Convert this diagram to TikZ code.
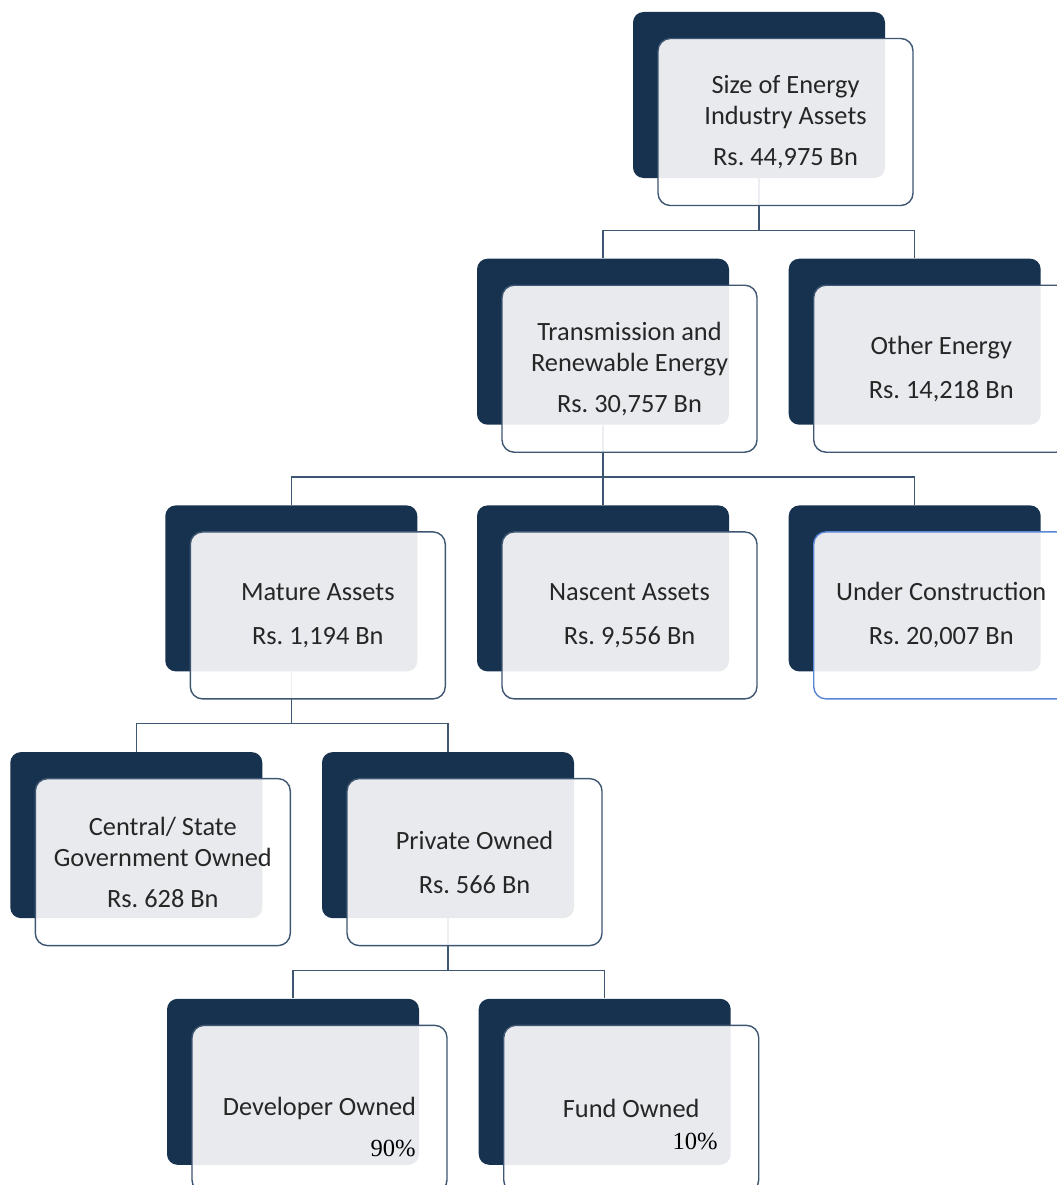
\documentclass[tikz,border=0pt]{standalone}
\usepackage{fontspec}
\setmainfont{Carlito}
\newfontfamily\pctfont{Liberation Serif}
\usepackage{xcolor}
\usetikzlibrary{positioning}
\definecolor{navy}{HTML}{17324F}
\definecolor{edgegray}{HTML}{3E5672}
\definecolor{edgeblue}{HTML}{5A86D6}
\definecolor{inkgray}{HTML}{262626}

\begin{document}
\begin{tikzpicture}[
  back/.style={fill=navy, rounded corners=6pt, minimum width=5.04cm,
    minimum height=3.32cm, inner sep=0pt},
  front/.style={draw=edgegray, line width=0.8pt, fill=white, fill opacity=0.9,
    text opacity=1, rounded corners=7pt, minimum width=5.1cm,
    minimum height=3.34cm, inner sep=0pt, align=center, text=inkgray,
    font=\fontsize{15}{17.6}\selectfont, xshift=0.53cm, yshift=-0.54cm},
  link/.style={draw=edgegray, line width=0.8pt},
  pct/.style={font=\pctfont\fontsize{14}{16}\selectfont, anchor=east, inner sep=0pt},
  node distance=1.6cm
]
\useasboundingbox (0,0) rectangle (21.14,-23.70);
\clip (0,0) rectangle (21.14,-23.70);

% dark back plates
\node[back] (topB) at (15.18,-1.90) {};
\node[back, below=of topB, xshift=-3.12cm] (treB) {};
\node[back, right=1.18cm of treB] (othB) {};
\node[back, below=of treB] (nasB) {};
\node[back, left=1.18cm of nasB] (matB) {};
\node[back, right=1.18cm of nasB] (ucB) {};
\node[back, below=of matB, xshift=-3.1cm] (cenB) {};
\node[back, right=1.18cm of cenB] (priB) {};
\node[back, below=of priB, xshift=-3.1cm] (devB) {};
\node[back, right=1.18cm of devB] (funB) {};

% tree links
\draw[link] (topB.south) -- ++(0,-1.04) -| (treB.north);
\draw[link] (topB.south) -- ++(0,-1.04) -| (othB.north);
\draw[link] (treB.south) -- ++(0,-1.04) -| (matB.north);
\draw[link] (treB.south) -- ++(0,-1.04) -| (nasB.north);
\draw[link] (treB.south) -- ++(0,-1.04) -| (ucB.north);
\draw[link] (matB.south) -- ++(0,-1.04) -| (cenB.north);
\draw[link] (matB.south) -- ++(0,-1.04) -| (priB.north);
\draw[link] (priB.south) -- ++(0,-1.04) -| (devB.north);
\draw[link] (priB.south) -- ++(0,-1.04) -| (funB.north);

% front cards
\node[front] (topF) at (topB) {Size of Energy\\Industry Assets\\[5.6pt]Rs.\ 44,975 Bn};
\node[front] (treF) at (treB) {Transmission and\\Renewable Energy\\[5.6pt]Rs.\ 30,757 Bn};
\node[front] (othF) at (othB) {Other Energy\\[7.4pt]Rs.\ 14,218 Bn};
\node[front] (matF) at (matB) {Mature Assets\\[7.4pt]Rs.\ 1,194 Bn};
\node[front] (nasF) at (nasB) {Nascent Assets\\[7.4pt]Rs.\ 9,556 Bn};
\node[front, draw=edgeblue] (ucF) at (ucB) {Under Construction\\[7.4pt]Rs.\ 20,007 Bn};
\node[front] (cenF) at (cenB) {Central/ State\\Government Owned\\[5.6pt]Rs.\ 628 Bn};
\node[front] (priF) at (priB) {Private Owned\\[7.4pt]Rs.\ 566 Bn};
\node[front] (devF) at (devB) {Developer Owned};
\node[front] (funF) at (funB) {Fund Owned};

% shares
\node[pct] (devP) at (8.32,-22.96) {90\%};
\node[pct] (funP) at (14.36,-22.82) {10\%};
\end{tikzpicture}
\end{document}
